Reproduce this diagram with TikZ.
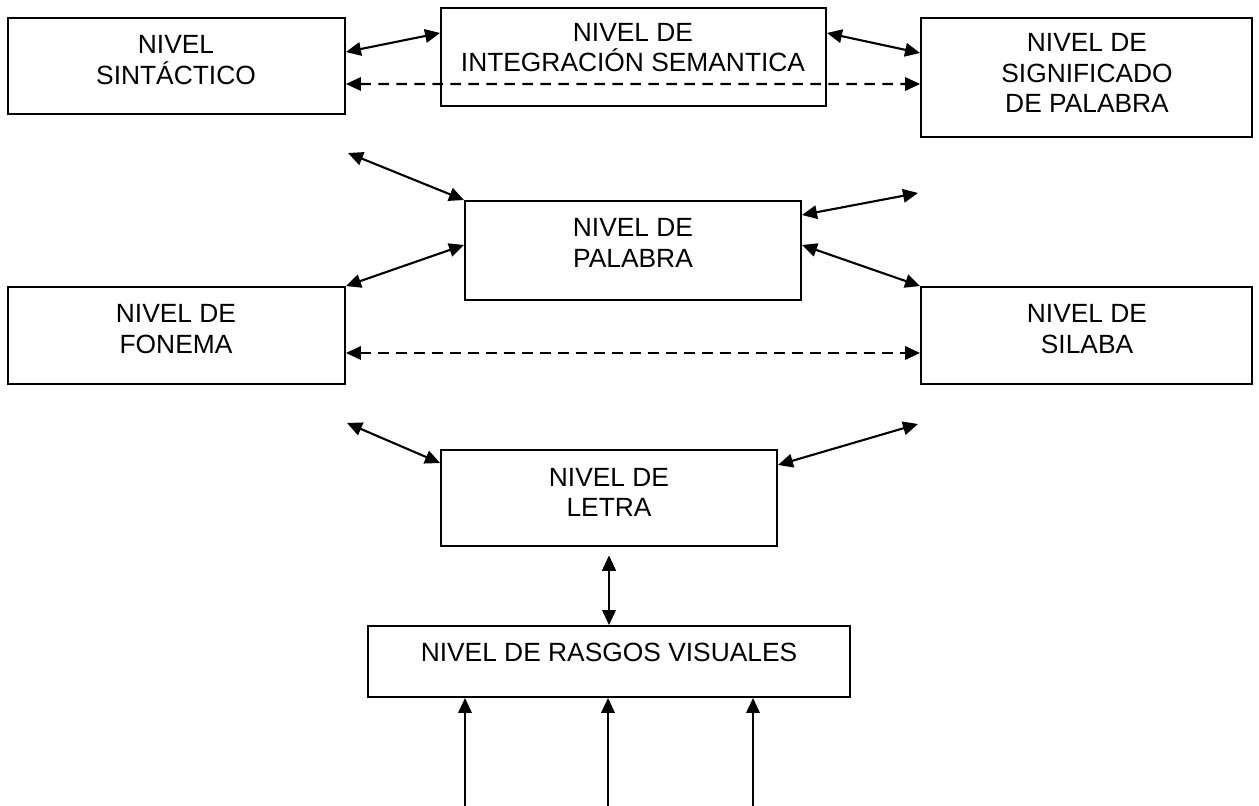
\documentclass[tikz,border=0pt]{standalone}
\usepackage{fontspec}
\setmainfont{Liberation Sans}
\usetikzlibrary{arrows.meta}
\begin{document}
\begin{tikzpicture}[<->, >={Triangle[length=0.3cm,width=0.27cm]}, line width=1.2pt]
	\tikzset{
	    nbox/.style= {draw, rectangle, line width=1.1pt, inner sep=0pt},
	    ntext/.style= {align=center, font=\fontsize{15}{17.5}\selectfont},
	    dlink/.style= {dash pattern=on 0.21cm off 0.15cm},
	}
	\useasboundingbox (0,0) rectangle (25.18,-16.12);

	\node[nbox, minimum width=6.74cm, minimum height=1.92cm] (sint) at (3.53,-1.32) {};
	\node[nbox, minimum width=7.7cm, minimum height=1.96cm] (integ) at (12.67,-1.14) {};
	\node[nbox, minimum width=6.62cm, minimum height=2.38cm] (signif) at (21.73,-1.55) {};
	\node[nbox, minimum width=6.72cm, minimum height=1.98cm] (palabra) at (12.66,-5.01) {};
	\node[nbox, minimum width=6.74cm, minimum height=1.94cm] (fonema) at (3.53,-6.71) {};
	\node[nbox, minimum width=6.62cm, minimum height=1.94cm] (silaba) at (21.73,-6.71) {};
	\node[nbox, minimum width=6.72cm, minimum height=1.92cm] (letra) at (12.18,-9.96) {};
	\node[nbox, minimum width=9.64cm, minimum height=1.42cm] (rasgos) at (12.18,-13.23) {};

	\node[ntext] (sint-t) at (3.52,-1.2) {NIVEL\\SINTÁCTICO};
	\node[ntext] (integ-t) at (12.66,-0.95) {NIVEL DE\\INTEGRACIÓN SEMANTICA};
	\node[ntext] (signif-t) at (21.74,-1.46) {NIVEL DE\\SIGNIFICADO\\DE PALABRA};
	\node[ntext] (palabra-t) at (12.66,-4.86) {NIVEL DE\\PALABRA};
	\node[ntext] (fonema-t) at (3.52,-6.58) {NIVEL DE\\FONEMA};
	\node[ntext] (silaba-t) at (21.74,-6.58) {NIVEL DE\\SILABA};
	\node[ntext] (letra-t) at (12.18,-9.85) {NIVEL DE\\LETRA};
	\node[ntext] (rasgos-t) at (12.18,-13.04) {NIVEL DE RASGOS VISUALES};

	\coordinate (fa) at (6.96,-3.06);
	\coordinate (fb) at (18.36,-3.86);
	\coordinate (fc) at (6.94,-8.46);
	\coordinate (fd) at (18.36,-8.48);
	\coordinate (in1) at (9.3,-16.12);
	\coordinate (in2) at (12.16,-16.12);
	\coordinate (in3) at (15.06,-16.12);

	\draw
	([yshift=0.28cm]sint.east) edge ([yshift=0.48cm]integ.west)
	([yshift=0.48cm]integ.east) edge ([yshift=0.49cm]signif.west)
	([yshift=-0.36cm]sint.east) edge[dlink] ([yshift=-0.13cm]signif.west)
	(fa) edge (palabra.north west)
	([yshift=0.71cm]palabra.east) edge (fb)
	(fonema.north east) edge ([yshift=0.11cm]palabra.west)
	([yshift=0.11cm]palabra.east) edge (silaba.north west)
	([yshift=-0.35cm]fonema.east) edge[dlink] ([yshift=-0.35cm]silaba.west)
	(fc) edge ([yshift=0.7cm]letra.west)
	([yshift=0.66cm]letra.east) edge (fd)
	([yshift=-0.18cm]letra.south) edge (rasgos.north);

	\draw[->] (in1) -- (in1 |- rasgos.south);
	\draw[->] (in2) -- (in2 |- rasgos.south);
	\draw[->] (in3) -- (in3 |- rasgos.south);
\end{tikzpicture}
\end{document}
